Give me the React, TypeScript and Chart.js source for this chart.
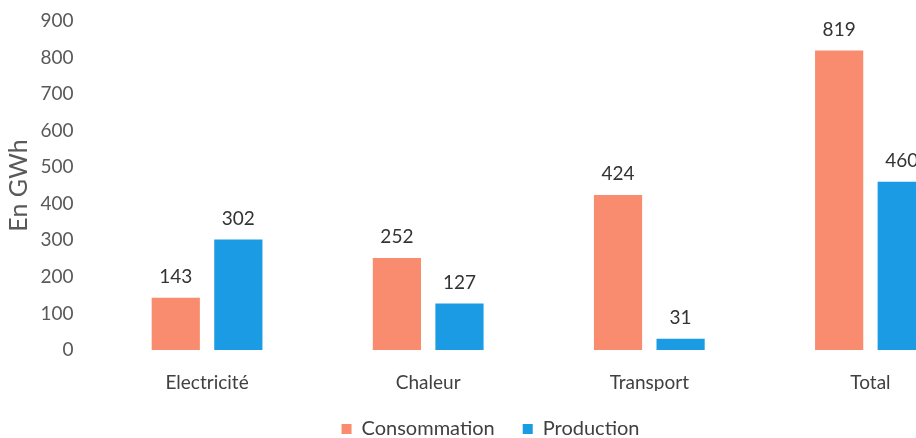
import React, { useEffect, useRef } from "react";
import { Chart, registerables } from "chart.js";

Chart.register(...registerables);

const categories = ["Electricité", "Chaleur", "Transport", "Total"];
const consommation = [143, 252, 424, 819];
const production = [302, 127, 31, 460];
const yTicks = [0, 100, 200, 300, 400, 500, 600, 700, 800, 900];
const seriesNames = ["Consommation", "Production"];

const FONT = "Lato, 'Open Sans', sans-serif";

const valueLabels = {
  id: "valueLabels",
  afterDatasetsDraw(chart: any) {
    const ctx = chart.ctx;
    ctx.save();
    ctx.font = `19px ${FONT}`;
    ctx.fillStyle = "#333333";
    ctx.textAlign = "center";
    ctx.textBaseline = "middle";
    chart.data.datasets.forEach((ds: any, i: number) => {
      const meta = chart.getDatasetMeta(i);
      meta.data.forEach((el: any, j: number) => {
        ctx.fillText(String(ds.data[j]), el.x, el.y - 21);
      });
    });
    ctx.restore();
  },
};

export default function App() {
  const ref = useRef<HTMLCanvasElement>(null);
  useEffect(() => {
    if (!ref.current) return;
    const chart = new Chart(ref.current, {
      type: "bar",
      data: {
        labels: categories,
        datasets: [
          {
            label: seriesNames[0],
            data: consommation,
            backgroundColor: "#F98B6E",
            categoryPercentage: 0.566,
            barPercentage: 0.77,
          },
          {
            label: seriesNames[1],
            data: production,
            backgroundColor: "#1A9BE4",
            categoryPercentage: 0.566,
            barPercentage: 0.77,
          },
        ],
      },
      options: {
        animation: false,
        responsive: true,
        maintainAspectRatio: false,
        layout: { padding: { top: 21, left: 0, right: 9, bottom: -11 } },
        plugins: {
          tooltip: { enabled: false },
          legend: {
            position: "bottom",
            labels: {
              boxWidth: 10,
              boxHeight: 10,
              padding: 28,
              color: "#404040",
              font: { family: FONT, size: 20 },
            },
          },
        },
        scales: {
          x: {
            grid: { display: false, drawTicks: false },
            border: { display: false },
            ticks: { padding: 21, color: "#404040", font: { family: FONT, size: 19 } },
            afterFit: (s: any) => {
              s.height = 41;
            },
          },
          y: {
            min: 0,
            max: 900,
            grid: { display: false, drawTicks: false },
            border: { display: false },
            afterBuildTicks: (s: any) => {
              s.ticks = yTicks.map((v) => ({ value: v }));
            },
            ticks: { padding: 23, color: "#595959", font: { family: FONT, size: 19 } },
            title: {
              display: true,
              text: "En GWh",
              color: "#595959",
              font: { family: FONT, size: 25 },
              padding: { top: 4, bottom: 0 },
            },
            afterFit: (s: any) => {
              s.width = 96.5;
              s.paddingTop = 0;
              s.paddingBottom = 0;
            },
          },
        },
      },
      plugins: [valueLabels],
    });
    return () => chart.destroy();
  }, []);
  return (
    <div
      style={{
        position: "fixed",
        left: 0,
        top: 0,
        width: 916,
        height: 438,
        overflow: "hidden",
        background: "#fff",
      }}
    >
      <div style={{ position: "relative", width: 990, height: 438 }}>
        <canvas ref={ref} />
      </div>
    </div>
  );
}
